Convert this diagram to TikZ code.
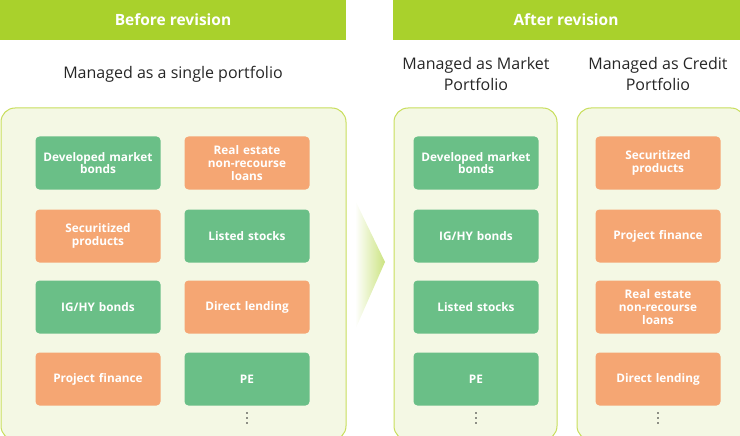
\documentclass[tikz,border=0pt]{standalone}
\usepackage{fontspec}
\setmainfont{Open Sans}
\usetikzlibrary{positioning}
\definecolor{hdr}{HTML}{A9D12C}
\definecolor{pnl}{HTML}{F4F8E4}
\definecolor{pnlline}{HTML}{C8DE5C}
\definecolor{grn}{HTML}{6ABF87}
\definecolor{org}{HTML}{F5A673}
\tikzset{
  header/.style={text=white, font=\bfseries\fontsize{15.5}{17}\selectfont},
  panel/.style={fill=pnl, draw=pnlline, line width=1pt, rounded corners=14pt},
  item/.style={rounded corners=4pt, minimum width=125pt, minimum height=53pt, text width=120pt,
    align=center, text=white, font=\bfseries\fontsize{11.8}{12.8}\selectfont, inner sep=1pt},
  mkt/.style={item, fill=grn},
  crd/.style={item, fill=org},
  title/.style={font=\fontsize{16}{21}\selectfont, align=center, text=black!85},
  more/.style={circle, fill=black!85, inner sep=0pt, minimum size=1.8pt}
}
\begin{document}
\begin{tikzpicture}[x=1pt,y=-1pt]
\useasboundingbox (0,0) rectangle (740,436);
% headers
\fill[hdr] (0,0) rectangle (346,40);
\node[header] (hb) at (173,20) {Before revision};
\fill[hdr] (393,0) rectangle (740,40);
\node[header] (ha) at (566,20) {After revision};
% titles
\node[title] (tl) at (173,74) {Managed as a single portfolio};
\node[title] (tm) at (476,74) {Managed as Market\\Portfolio};
\node[title] (tc) at (658,74) {Managed as Credit\\Portfolio};
% panels
\draw[panel] (1,108) rectangle (346,440);
\draw[panel] (394,108) rectangle (557,440);
\draw[panel] (577,108) rectangle (745,440);
% arrow
\shade[left color=white, right color=hdr!60] (355,200) -- (385,262) -- (355,330) -- cycle;
% before
\node[mkt] (b1) at (98,163) {Developed market\\bonds};
\node[crd] (b2) at (247,163) {Real estate\\non-recourse\\loans};
\node[crd] (b3) at (98,236) {Securitized\\products};
\node[mkt] (b4) at (247,236) {Listed stocks};
\node[mkt] (b5) at (98,307) {IG/HY bonds};
\node[crd] (b6) at (247,307) {Direct lending};
\node[crd] (b7) at (98,379) {Project finance};
\node[mkt] (b8) at (247,379) {PE};
% market
\node[mkt] (m1) at (476,163) {Developed market\\bonds};
\node[mkt] (m2) at (476,236) {IG/HY bonds};
\node[mkt] (m3) at (476,307) {Listed stocks};
\node[mkt] (m4) at (476,379) {PE};
% credit
\node[crd] (c1) at (658,163) {Securitized\\products};
\node[crd] (c2) at (658,236) {Project finance};
\node[crd] (c3) at (658,307) {Real estate\\non-recourse\\loans};
\node[crd] (c4) at (658,379) {Direct lending};
% more items
\foreach \x in {247,476,658}
  \foreach \y in {413,418,423}
    \node[more] at (\x,\y) {};
\end{tikzpicture}
\end{document}
